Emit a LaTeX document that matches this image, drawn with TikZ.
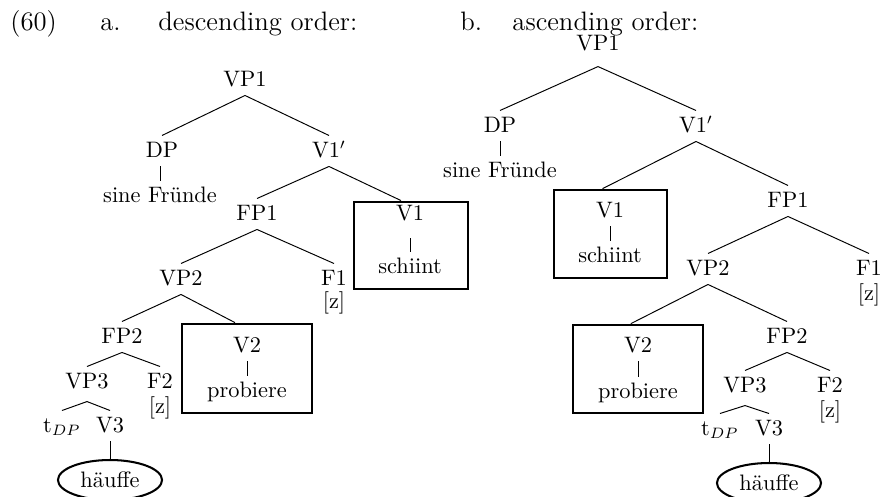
\documentclass[tikz,border=0pt]{standalone}
\usepackage{fontspec}
\usetikzlibrary{shapes.geometric}
\tikzset{
  lab/.style={anchor=base, inner xsep=1pt, inner ysep=0pt, text height=9.8pt, text depth=4.2pt, font=\fontsize{10.4}{12.5}\selectfont},
  heading/.style={anchor=base west, inner sep=0pt, font=\fontsize{12.4}{14.8}\selectfont},
  branch/.style={line width=0.45pt},
  framebox/.style={draw, line width=1.3pt, inner sep=0pt},
  oval/.style={draw, ellipse, line width=0.95pt, inner sep=0pt, minimum width=48.4pt, minimum height=18.6pt, font=\fontsize{10.4}{12.5}\selectfont}
}
\begin{document}
\begin{tikzpicture}[x=0.465pt, y=-0.465pt]
\useasboundingbox (0,0) rectangle (880,496);
% headings
\node[heading] (num) at (10,30) {(60)};
\node[heading] (la) at (100,30) {a.};
\node[heading] (ta) at (158,30) {descending order:};
\node[heading] (lb) at (460,30) {b.};
\node[heading] (tb) at (512,30) {ascending order:};

% ---------- tree a ----------
\node[lab] (aVP1) at (245,86) {VP1};
\node[lab] (aDP) at (162,157) {DP};
\node[lab] (asF) at (160,202) {sine Fründe};
\node[lab] (aV1p) at (329,157) {V1$'$};
\node[lab] (aFP1) at (257,220) {FP1};
\node[framebox, minimum width=53pt, minimum height=40.5pt] (abox1) at (411,245.5) {};
\node[lab] (aV1) at (410,220) {V1};
\node[lab] (asch) at (410,273) {schiint};
\node[lab] (aVP2) at (181,285) {VP2};
\node[lab] (aF1) at (334,285) {F1};
\node[lab] (az1) at (334,308) {[z]};
\node[lab] (aFP2) at (122,343) {FP2};
\node[framebox, minimum width=60.5pt, minimum height=41.4pt] (abox2) at (247,368.5) {};
\node[lab] (aV2) at (247,352) {V2};
\node[lab] (aprob) at (247,397) {probiere};
\node[lab] (aVP3) at (87,388) {VP3};
\node[lab] (aF2) at (160,388) {F2};
\node[lab] (az2) at (160,413) {[z]};
\node[lab] (at) at (62,432) {t$_{DP}$};
\node[lab] (aV3) at (110,432) {V3};
\node[oval] (ahf) at (110,480) {häuffe};

\draw[branch] (aVP1.south) -- (aDP.north);
\draw[branch] (aVP1.south) -- (aV1p.north);
\draw[branch] (asF.north |- aDP.south) -- (asF.north);
\draw[branch] (aV1p.south) -- (aFP1.north);
\draw[branch] (aV1p.south) -- ([xshift=-4.65pt]abox1.north);
\draw[branch, shorten <=4pt] (aV1.south) -- (asch.north);
\draw[branch] (aFP1.south) -- (aVP2.north);
\draw[branch] (aFP1.south) -- (aF1.north);
\draw[branch] (aVP2.south) -- (aFP2.north);
\draw[branch] (aVP2.south) -- ([xshift=-5.6pt]abox2.north);
\draw[branch] (aV2.south) -- (aprob.north);
\draw[branch] (aFP2.south) -- (aVP3.north);
\draw[branch] (aFP2.south) -- (aF2.north);
\draw[branch] ([yshift=-1.9pt]aVP3.south) -- (at.north);
\draw[branch] ([yshift=-1.9pt]aVP3.south) -- (aV3.north);
\draw[branch] (aV3.south) -- (ahf.north);

% ---------- tree b ----------
\node[lab] (bVP1) at (598,50) {VP1};
\node[lab] (bDP) at (500,132) {DP};
\node[lab] (bsF) at (500,177) {sine Fründe};
\node[lab] (bV1p) at (696,132) {V1$'$};
\node[framebox, minimum width=52.5pt, minimum height=40.9pt] (bbox1) at (610.5,234) {};
\node[lab] (bV1) at (610,217) {V1};
\node[lab] (bsch) at (610,262) {schiint};
\node[lab] (bFP1) at (788,207) {FP1};
\node[lab] (bVP2) at (708,275) {VP2};
\node[lab] (bF1) at (869,275) {F1};
\node[lab] (bz1) at (869,300) {[z]};
\node[framebox, minimum width=60.5pt, minimum height=40.9pt] (bbox2) at (638,369) {};
\node[lab] (bV2) at (638,352) {V2};
\node[lab] (bprob) at (638,398) {probiere};
\node[lab] (bFP2) at (787,343) {FP2};
\node[lab] (bVP3) at (745,392) {VP3};
\node[lab] (bF2) at (830,392) {F2};
\node[lab] (bz2) at (830,417) {[z]};
\node[lab] (bt) at (720,435) {t$_{DP}$};
\node[lab] (bV3) at (769,435) {V3};
\node[oval] (bhf) at (769,483) {häuffe};

\draw[branch] ([yshift=-3.3pt]bVP1.south) -- (bDP.north);
\draw[branch] ([yshift=-3.3pt]bVP1.south) -- (bV1p.north);
\draw[branch] (bDP.south) -- (bsF.north);
\draw[branch] (bV1p.south) -- ([xshift=-3.7pt]bbox1.north);
\draw[branch] (bV1p.south) -- (bFP1.north);
\draw[branch] (bV1.south) -- (bsch.north);
\draw[branch] (bFP1.south) -- (bVP2.north);
\draw[branch] (bFP1.south) -- (bF1.north);
\draw[branch] (bVP2.south) -- ([xshift=-3.3pt]bbox2.north);
\draw[branch] (bVP2.south) -- (bFP2.north);
\draw[branch] (bV2.south) -- (bprob.north);
\draw[branch] (bFP2.south) -- (bVP3.north);
\draw[branch] (bFP2.south) -- (bF2.north);
\draw[branch] ([yshift=-1.9pt]bVP3.south) -- (bt.north);
\draw[branch] ([yshift=-1.9pt]bVP3.south) -- (bV3.north);
\draw[branch] (bV3.south) -- (bhf.north);
\end{tikzpicture}
\end{document}
